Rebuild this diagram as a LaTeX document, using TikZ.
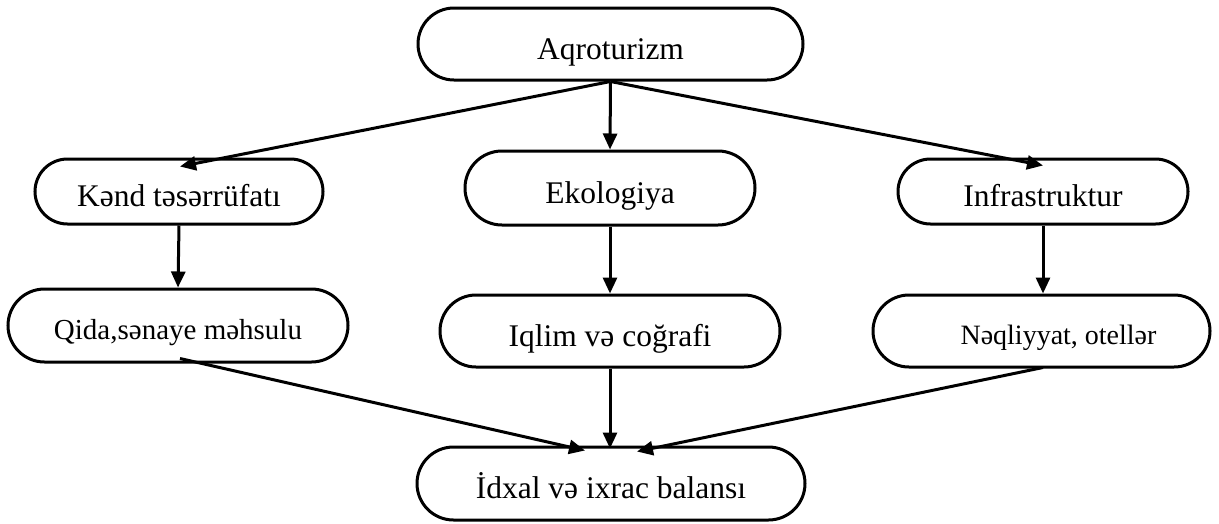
\documentclass[tikz,border=0pt]{standalone}
\usepackage{fontspec}
\setmainfont{Liberation Serif}
\usetikzlibrary{arrows.meta,shapes.misc}
\begin{document}
\begin{tikzpicture}[x=1pt,y=-1pt,
  pill/.style={draw,line width=3pt,rounded rectangle,rounded rectangle arc length=180,
    inner sep=0pt,font=\fontsize{31.5}{36}\selectfont,minimum height=72pt,
    text height=30pt,text depth=0pt},
  link/.style={line width=3pt,-{Triangle[length=16pt,width=14pt]}}]
  \useasboundingbox (0,0) rectangle (1219,523);
  % boxes
  \node[pill,minimum width=385pt] (top)   at (610.5,44)  {Aqroturizm};
  \node[pill,minimum width=288pt,minimum height=65pt] (kend)  at (179,191.5) {Kənd təsərrüfatı};
  \node[pill,minimum width=290pt,minimum height=74pt] (eko)   at (610,188)   {Ekologiya};
  \node[pill,minimum width=290pt,minimum height=65pt] (infra) at (1043,191.5){Infrastruktur};
  \node[pill,minimum width=340pt,minimum height=73pt,font=\fontsize{29}{34}\selectfont,text height=28pt] (qida) at (178,325.5) {Qida,sənaye məhsulu};
  \node[pill,minimum width=340pt] (iqlim) at (610,331)   {Iqlim və coğrafi};
  \node[pill,minimum width=337pt,font=\fontsize{28}{33}\selectfont,text height=27.5pt] (neq) at (1041.5,331) {\hspace*{34pt}Nəqliyyat, otellər};
  \node[pill,minimum width=388pt,minimum height=73pt] (idxal) at (611,483.5) {İdxal və ixrac balansı};
  % connectors
  \draw[link] (top.south) -- ([xshift=1pt,yshift=-9pt]kend.north);
  \draw[link] (top.south) -- (eko.north);
  \draw[link] (top.south) -- ([yshift=-8pt]infra.north);
  \draw[link] (kend.south) -- (qida.north);
  \draw[link] (eko.south) -- (iqlim.north);
  \draw[link] (infra.south) -- (infra.south |- neq.north);
  \draw[link] ([xshift=2pt,yshift=5pt]qida.south) -- ([xshift=-26pt,yshift=-5pt]idxal.north);
  \draw[link] (iqlim.south) -- ([yshift=-3pt]iqlim.south |- idxal.north);
  \draw[link] ([xshift=1.5pt,yshift=1pt]neq.south) -- ([xshift=26pt,yshift=-6pt]idxal.north);
\end{tikzpicture}
\end{document}
